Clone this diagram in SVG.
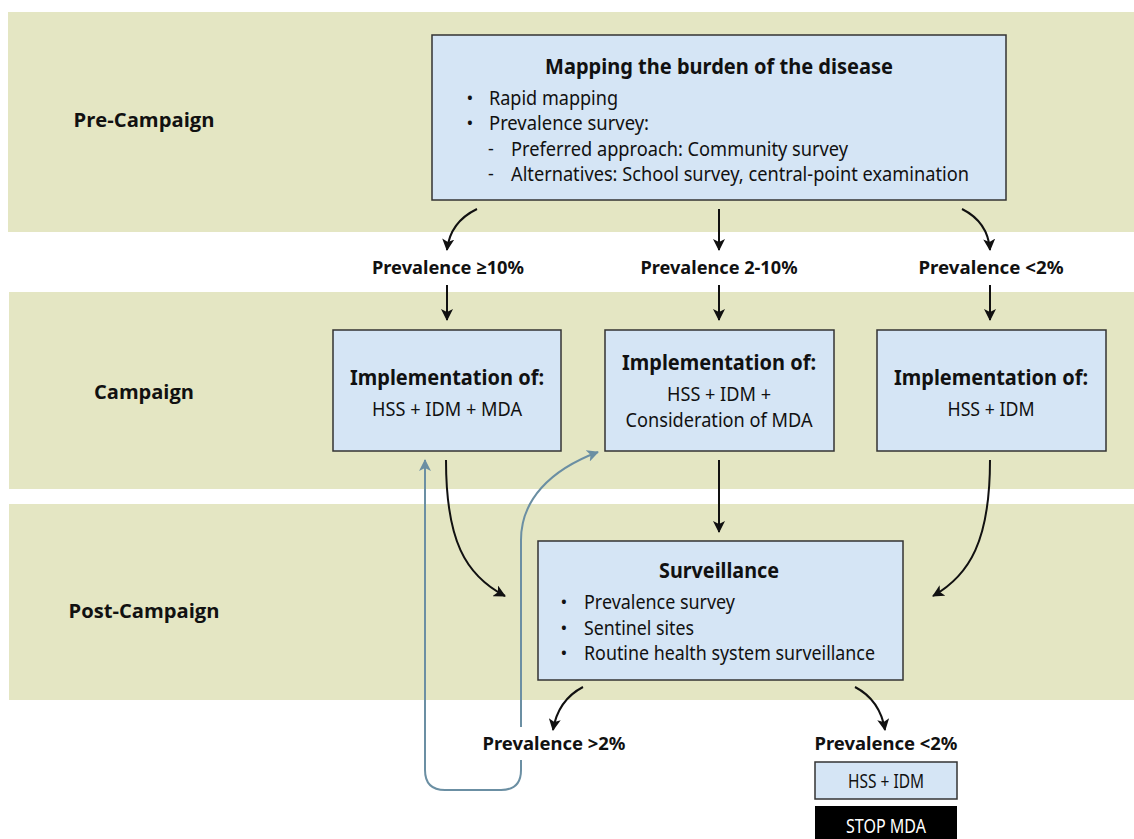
<svg xmlns="http://www.w3.org/2000/svg" width="1134" height="839" viewBox="0 0 1134 839">
<style>
.band{fill:#E4E6C3}
.box{fill:#D5E5F5;stroke:#333;stroke-width:1.5}
.t{font-family:"Noto Sans","Open Sans",sans-serif;fill:#111}
.b{font-weight:bold}
.row{font-family:"Open Sans","Noto Sans",sans-serif;font-weight:bold;font-size:19px;fill:#111}
.c{stroke:#111;stroke-width:2;fill:none;marker-end:url(#ah)}
.loop{stroke:#6B8FA3;stroke-width:2;fill:none}
</style>
<defs>
<marker id="ah" viewBox="0 0 12 12" refX="11" refY="6" markerWidth="12" markerHeight="12" markerUnits="userSpaceOnUse" orient="auto">
<path d="M0,0 L12,6 L0,12 L3,6 z" fill="#111"/>
</marker>
<marker id="ahb" viewBox="0 0 12 12" refX="11" refY="6" markerWidth="12" markerHeight="12" markerUnits="userSpaceOnUse" orient="auto">
<path d="M0,0 L12,6 L0,12 L3,6 z" fill="#6B8FA3"/>
</marker>
</defs>
<rect width="1134" height="839" fill="#fff"/>
<g id="bands">
<rect class="band" x="8" y="12" width="1126" height="220"/>
<rect class="band" x="9" y="292" width="1125" height="197"/>
<rect class="band" x="9" y="504" width="1125" height="196"/>
<text class="row" x="144" y="127" text-anchor="middle" textLength="141" lengthAdjust="spacingAndGlyphs">Pre-Campaign</text>
<text class="row" x="144" y="399" text-anchor="middle" textLength="100" lengthAdjust="spacingAndGlyphs">Campaign</text>
<text class="row" x="144" y="618" text-anchor="middle" textLength="151" lengthAdjust="spacingAndGlyphs">Post-Campaign</text>
</g>
<g id="connectors">
<path class="c" d="M477,209 Q450,222 447,250"/>
<path class="c" d="M719,209 L719,250"/>
<path class="c" d="M962,209 Q988,222 990,250"/>
<path class="c" d="M447,285 L447,320"/>
<path class="c" d="M719,285 L719,320"/>
<path class="c" d="M990,285 L990,320"/>
<path class="c" d="M446,460 C446,540 465,575 505,596"/>
<path class="c" d="M719,460 L719,532"/>
<path class="c" d="M990,460 C990,540 970,575 933,596"/>
<path class="c" d="M583,687 Q558,700 553,730"/>
<path class="c" d="M855,687 Q880,700 885,730"/>
<path class="loop" d="M521,760 L521,770 Q521,790 501,790 L445,790 Q425,790 425,770 L425,460" marker-end="url(#ahb)"/>
<path class="loop" d="M521,727 L521,540 C521,500 550,470 598,452" marker-end="url(#ahb)"/>
</g>
<g id="mapping">
<rect class="box" x="432" y="35" width="574" height="165"/>
<text class="t b" x="719" y="74" font-size="22" text-anchor="middle" textLength="348" lengthAdjust="spacingAndGlyphs">Mapping the burden of the disease</text>
<text class="t" x="470" y="104" font-size="18" text-anchor="middle">•</text>
<text class="t" x="489" y="105" font-size="19" textLength="129" lengthAdjust="spacingAndGlyphs">Rapid mapping</text>
<text class="t" x="470" y="129" font-size="18" text-anchor="middle">•</text>
<text class="t" x="489" y="130" font-size="19" textLength="160" lengthAdjust="spacingAndGlyphs">Prevalence survey:</text>
<text class="t" x="491" y="155" font-size="18" text-anchor="middle">-</text>
<text class="t" x="511" y="156" font-size="19" textLength="337" lengthAdjust="spacingAndGlyphs">Preferred approach: Community survey</text>
<text class="t" x="491" y="180" font-size="18" text-anchor="middle">-</text>
<text class="t" x="511" y="181" font-size="19" textLength="458" lengthAdjust="spacingAndGlyphs">Alternatives: School survey, central-point examination</text>
</g>
<g id="lbl-ge10">
<text class="t b" x="448" y="274" font-size="18" text-anchor="middle" textLength="152" lengthAdjust="spacingAndGlyphs">Prevalence ≥10%</text>
</g>
<g id="lbl-2-10">
<text class="t b" x="719" y="274" font-size="18" text-anchor="middle" textLength="157" lengthAdjust="spacingAndGlyphs">Prevalence 2-10%</text>
</g>
<g id="lbl-lt2">
<text class="t b" x="991" y="274" font-size="18" text-anchor="middle" textLength="145" lengthAdjust="spacingAndGlyphs">Prevalence &lt;2%</text>
</g>
<g id="impl1">
<rect class="box" x="333" y="330" width="228" height="121"/>
<text class="t b" x="447" y="385" font-size="22" text-anchor="middle" textLength="194" lengthAdjust="spacingAndGlyphs">Implementation of:</text>
<text class="t" x="447" y="416" font-size="19" text-anchor="middle" textLength="150" lengthAdjust="spacingAndGlyphs">HSS + IDM + MDA</text>
</g>
<g id="impl2">
<rect class="box" x="605" y="330" width="229" height="121"/>
<text class="t b" x="719" y="370" font-size="22" text-anchor="middle" textLength="194" lengthAdjust="spacingAndGlyphs">Implementation of:</text>
<text class="t" x="719" y="401" font-size="19" text-anchor="middle" textLength="104" lengthAdjust="spacingAndGlyphs">HSS + IDM +</text>
<text class="t" x="719" y="427" font-size="19" text-anchor="middle" textLength="187" lengthAdjust="spacingAndGlyphs">Consideration of MDA</text>
</g>
<g id="impl3">
<rect class="box" x="877" y="330" width="229" height="121"/>
<text class="t b" x="991" y="385" font-size="22" text-anchor="middle" textLength="194" lengthAdjust="spacingAndGlyphs">Implementation of:</text>
<text class="t" x="991" y="416" font-size="19" text-anchor="middle" textLength="87" lengthAdjust="spacingAndGlyphs">HSS + IDM</text>
</g>
<g id="surveillance">
<rect class="box" x="538" y="541" width="365" height="139"/>
<text class="t b" x="719" y="578" font-size="22" text-anchor="middle" textLength="120" lengthAdjust="spacingAndGlyphs">Surveillance</text>
<text class="t" x="564" y="608" font-size="18" text-anchor="middle">•</text>
<text class="t" x="584" y="609" font-size="19" textLength="151" lengthAdjust="spacingAndGlyphs">Prevalence survey</text>
<text class="t" x="564" y="634" font-size="18" text-anchor="middle">•</text>
<text class="t" x="584" y="635" font-size="19" textLength="110" lengthAdjust="spacingAndGlyphs">Sentinel sites</text>
<text class="t" x="564" y="659" font-size="18" text-anchor="middle">•</text>
<text class="t" x="584" y="660" font-size="19" textLength="291" lengthAdjust="spacingAndGlyphs">Routine health system surveillance</text>
</g>
<g id="lbl-gt2">
<text class="t b" x="554" y="750" font-size="18" text-anchor="middle" textLength="143" lengthAdjust="spacingAndGlyphs">Prevalence &gt;2%</text>
</g>
<g id="lbl-lt2b">
<text class="t b" x="886" y="750" font-size="18" text-anchor="middle" textLength="143" lengthAdjust="spacingAndGlyphs">Prevalence &lt;2%</text>
</g>
<g id="hss-idm">
<rect class="box" x="815" y="762" width="142" height="37"/>
<text class="t" x="886" y="788" font-size="19" text-anchor="middle" textLength="76" lengthAdjust="spacingAndGlyphs">HSS + IDM</text>
</g>
<g id="stop-mda">
<rect x="815" y="806" width="142" height="40" fill="#000"/>
<text class="t" x="886" y="833" font-size="19" text-anchor="middle" style="fill:#fff" textLength="80" lengthAdjust="spacingAndGlyphs">STOP MDA</text>
</g>
</svg>
